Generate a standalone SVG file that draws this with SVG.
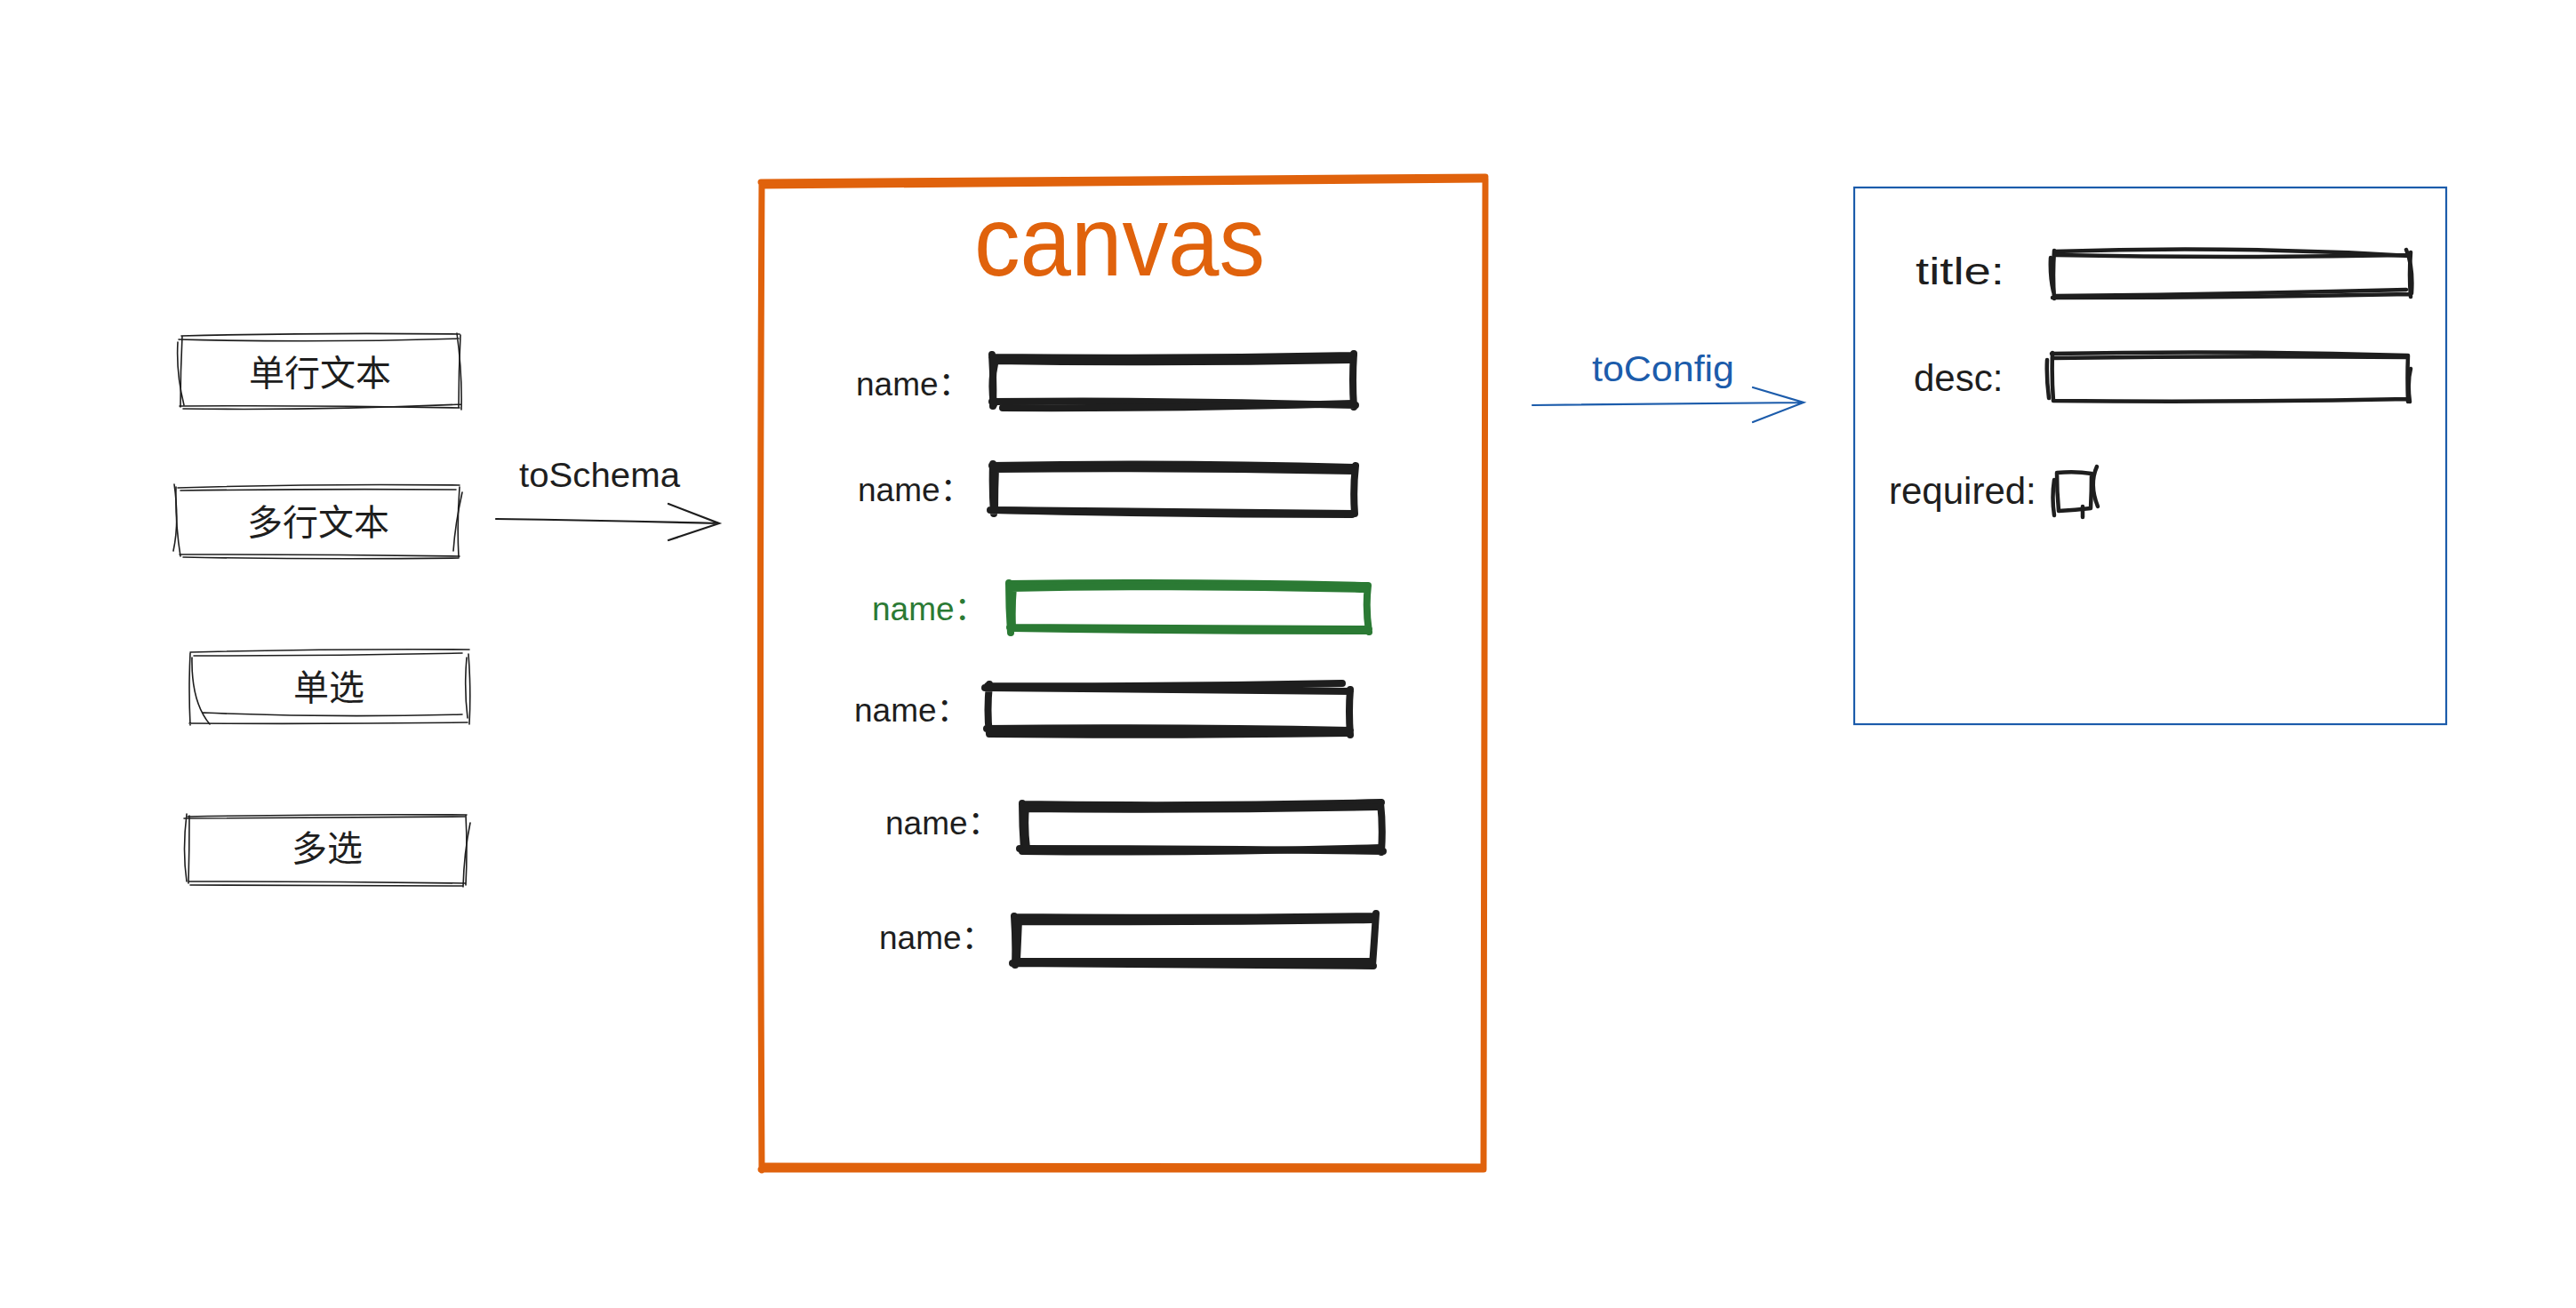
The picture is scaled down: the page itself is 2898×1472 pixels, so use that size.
<svg xmlns="http://www.w3.org/2000/svg" width="2898" height="1472" viewBox="0 0 2898 1472">
<style>
.thin{fill:none;stroke:#1e1e1e;stroke-width:1.6;stroke-linecap:round;stroke-linejoin:round}
.thick{fill:none;stroke:#1e1e1e;stroke-width:8;stroke-linecap:round;stroke-linejoin:round}
.green{fill:none;stroke:#2b7a34;stroke-width:8;stroke-linecap:round;stroke-linejoin:round}
.mid{fill:none;stroke:#1e1e1e;stroke-width:4.5;stroke-linecap:round;stroke-linejoin:round}
.orange{fill:none;stroke:#e0620c;stroke-width:7;stroke-linecap:round;stroke-linejoin:round}
.cn{font-family:"Noto Sans CJK SC","Noto Sans",sans-serif;font-size:40px;fill:#1e1e1e;text-anchor:middle}
.lbl{font-family:"Liberation Sans","Noto Sans CJK SC",sans-serif;font-size:37px;fill:#1e1e1e}
.rl{font-family:"Liberation Sans","Noto Sans CJK SC",sans-serif;font-size:42px;fill:#1e1e1e}
.arr{fill:none;stroke-width:2.2;stroke-linecap:round}
</style>
<rect width="2898" height="1472" fill="#ffffff"/>

<!-- left palette -->
<g id="node-single-line">
<path class="thin" d="M204 378 Q360 374 517 376 M518 377 Q516 418 516 458 M517 459 Q360 456 202 457 M203 458 Q203 418 205 378"/>
<path class="thin" d="M201 382 Q360 386 516 381 M514 375 Q520 418 519 461 M519 455 Q360 462 206 460 M207 456 Q198 420 200 385"/>
<text class="cn" x="360" y="434">单行文本</text>
</g>
<g id="node-multi-line">
<path class="thin" d="M200 549 Q360 544 517 546 M517 548 Q514 588 516 627 M517 626 Q360 624 202 624 M203 626 Q197 588 198 548"/>
<path class="thin" d="M203 552 Q360 550 513 551 M520 554 Q512 590 510 620 M516 628 Q360 630 206 627 M195 620 Q202 588 196 545"/>
<text class="cn" x="358" y="602">多行文本</text>
</g>
<g id="node-single-choice">
<path class="thin" d="M214 734 Q370 730 528 731 M527 736 Q530 775 528 815 M526 813 Q370 815 213 814 M214 816 Q212 775 214 735"/>
<path class="thin" d="M218 738 Q370 738 520 735 M525 740 Q522 775 526 808 M520 804 Q370 808 228 802 M236 815 Q215 790 216 740"/>
<text class="cn" x="370" y="788">单选</text>
</g>
<g id="node-multi-choice">
<path class="thin" d="M211 919 Q370 916 525 917 M524 917 Q526 957 524 996 M523 994 Q370 992 213 992 M212 994 Q213 957 213 918"/>
<path class="thin" d="M207 921 Q370 920 523 919 M529 926 Q522 960 521 998 M520 997 Q370 996 214 996 M210 992 Q205 957 210 916"/>
<text class="cn" x="368" y="969">多选</text>
</g>

<!-- canvas -->
<g id="node-canvas">
<path class="orange" d="M856 205 Q1260 201 1671 199 M1671 201 Q1668 760 1669 1316 M1669 1316 Q1260 1317 856 1316 M857 1317 Q854 760 857 205"/>
<path class="orange" style="stroke-width:5" d="M858 210 Q1260 205 1668 203 M858 1311 Q1260 1312 1668 1312"/>
<text x="1096" y="310" textLength="327" lengthAdjust="spacingAndGlyphs" style="font-family:'Liberation Sans',sans-serif;font-size:112px;fill:#e0620c">canvas</text>
</g>

<g id="node-field-1">
<text class="lbl" x="963" y="445">name：</text>
<path class="thick" d="M1116 402 Q1320 404 1523 400 M1523 398 Q1521 428 1523 458 M1525 456 Q1320 450 1116 452 M1117 457 Q1118 430 1116 399"/>
<path class="thick" d="M1118 406 Q1320 409 1520 405 M1128 459 Q1320 460 1522 454 M1120 404 Q1114 430 1118 455"/>
</g>
<g id="node-field-2">
<text class="lbl" x="965" y="564">name：</text>
<path class="thick" d="M1116 524 Q1320 520 1523 526 M1525 524 Q1522 550 1524 578 M1523 578 Q1320 576 1114 574 M1118 578 Q1116 550 1117 522"/>
<path class="thick" d="M1117 528 Q1320 526 1522 530 M1119 574 Q1320 579 1521 579 M1120 525 Q1119 550 1119 574"/>
</g>
<g id="node-field-3">
<text class="lbl" x="981" y="698" style="fill:#2b7a34">name：</text>
<path class="green" d="M1135 657 Q1340 654 1539 659 M1539 659 Q1536 684 1540 711 M1540 708 Q1340 707 1136 706 M1137 712 Q1135 684 1135 656"/>
<path class="green" d="M1137 662 Q1340 658 1536 663 M1139 707 Q1340 710 1537 710 M1140 660 Q1138 684 1139 706"/>
</g>
<g id="node-field-4">
<text class="lbl" x="961" y="812">name：</text>
<path class="thick" d="M1111 772 Q1300 773 1510 769 M1108 774 Q1300 776 1519 778 M1519 776 Q1517 800 1519 827 M1519 822 Q1300 818 1110 820 M1113 826 Q1110 800 1113 770"/>
<path class="thick" d="M1115 826 Q1300 828 1517 825 M1114 822 Q1300 820 1400 823"/>
</g>
<g id="node-field-5">
<text class="lbl" x="996" y="939">name：</text>
<path class="thick" d="M1150 905 Q1350 908 1554 903 M1553 903 Q1556 930 1554 959 M1556 958 Q1350 955 1147 955 M1152 957 Q1150 930 1150 904"/>
<path class="thick" d="M1151 910 Q1350 912 1552 908 M1150 958 Q1350 960 1553 954 M1154 908 Q1152 930 1155 955"/>
</g>
<g id="node-field-6">
<text class="lbl" x="989" y="1068">name：</text>
<path class="thick" d="M1141 1032 Q1340 1034 1546 1031 M1548 1028 Q1546 1060 1544 1087 M1545 1087 Q1340 1086 1139 1084 M1142 1086 Q1143 1060 1141 1031"/>
<path class="thick" d="M1143 1037 Q1340 1038 1543 1035 M1143 1082 Q1340 1082 1543 1082 M1146 1035 Q1145 1060 1144 1080"/>
</g>

<!-- config panel -->
<g id="node-config">
<rect x="2086" y="211" width="666" height="604" fill="none" stroke="#1c5cab" stroke-width="2.2"/>
</g>
<g id="node-title">
<text class="rl" x="2155" y="320" textLength="100" lengthAdjust="spacingAndGlyphs">title:</text>
<path class="mid" d="M2311 283 Q2510 276 2711 288 M2712 284 Q2710 310 2712 334 M2711 331 Q2510 335 2309 335 M2311 336 Q2309 310 2311 282"/>
<path class="mid" d="M2313 287 Q2510 291 2707 287 M2313 333 Q2510 331 2707 326 M2307 290 Q2306 310 2310 328 M2707 281 Q2715 300 2713 330"/>
</g>
<g id="node-desc">
<text class="rl" x="2153" y="440">desc:</text>
<path class="mid" d="M2308 398 Q2510 394 2708 400 M2709 400 Q2708 425 2709 452 M2709 449 Q2510 453 2310 451 M2310 451 Q2308 425 2309 397"/>
<path class="mid" d="M2309 403 Q2510 400 2707 402 M2303 405 Q2302 425 2305 448 M2712 415 Q2708 430 2711 452"/>
</g>
<g id="node-required">
<text class="rl" x="2125" y="567">required:</text>
<path class="mid" d="M2314 532 Q2335 530 2353 533 M2353 533 Q2353 553 2352 572 M2352 572 Q2335 574 2316 575 M2316 575 Q2314 553 2314 532"/>
<path class="mid" d="M2311 540 Q2308 560 2311 580 M2359 525 Q2350 545 2360 570 M2343 570 L2343 582"/>
</g>

<!-- connectors -->
<g id="connectors">
<g id="edge-toSchema">
<path class="arr" stroke="#1e1e1e" d="M558 584 Q690 586 809 589 M752 567 L809 589 L752 608"/>
<text x="584" y="548" textLength="181" lengthAdjust="spacingAndGlyphs" style="font-family:'Liberation Sans',sans-serif;font-size:38px;fill:#1e1e1e">toSchema</text>
</g>
<g id="edge-toConfig">
<path class="arr" stroke="#1c5cab" d="M1724 456 Q1880 455 2029 453 M1972 436 L2029 453 L1972 475"/>
<text x="1791" y="429" textLength="160" lengthAdjust="spacingAndGlyphs" style="font-family:'Liberation Sans',sans-serif;font-size:40px;fill:#1c5cab">toConfig</text>
</g>
</g>
</svg>
